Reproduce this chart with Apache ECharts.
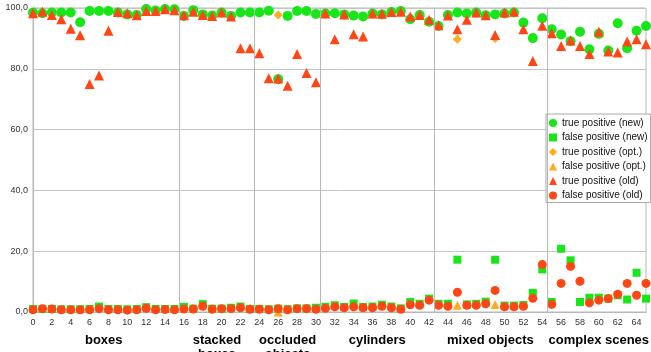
<!DOCTYPE html>
<html>
<head>
<meta charset="utf-8">
<script src="https://cdn.jsdelivr.net/npm/echarts@6/dist/echarts.min.js"></script>
<style>
  html, body { margin: 0; padding: 0; background: #fff; }
  #chart { width: 651px; height: 352px; }
</style>
</head>
<body>
<div id="chart"></div>
<script>
// scene groups: first / last scene index of each group
const groupNames = ['boxes', 'stacked\nboxes', 'occluded\nobjects', 'cylinders', 'mixed objects', 'complex scenes'];
const groupStart = [0, 16, 24, 31, 43, 55];
const groupEnd = [15, 23, 30, 42, 54, 65];

// true / false positives in %, one value per scene 0..65
const tpNew = [
  98.5, 98.3, 98.5, 98.5, 98.5, 95.3, 99.0, 99.0, 99.0, 98.5, 97.9, 97.7, 99.7, 99.2, 99.7, 99.6,
  97.4, 99.3, 97.9, 97.5, 98.5, 97.4, 98.5, 98.5, 98.5, 99.1, 76.6, 97.4, 99.0, 99.0, 98.0,
  98.2, 98.3, 97.9, 97.5, 97.2, 98.2, 97.9, 98.7, 99.0, 96.3, 97.7, 95.5,
  94.1, 97.7, 98.5, 98.2, 98.5, 97.6, 97.9, 98.2, 98.5, 95.2, 90.1, 96.6,
  93.0, 91.3, 89.1, 92.2, 86.4, 91.5, 86.0, 95.0, 86.8, 92.5, 94.1
];
const fpNew = [
  1.0, 1.0, 1.0, 0.9, 0.9, 0.9, 1.0, 1.8, 1.0, 1.0, 0.9, 1.0, 1.6, 1.0, 1.0, 1.0,
  1.7, 1.1, 2.6, 1.1, 1.1, 1.4, 1.8, 1.0, 1.0, 0.9, 1.1, 0.9, 1.2, 1.2, 1.4,
  1.7, 2.2, 1.7, 2.8, 1.7, 1.8, 2.4, 1.8, 1.2, 3.3, 2.7, 4.4,
  2.7, 2.7, 17.2, 2.5, 2.7, 3.4, 17.2, 2.1, 2.1, 2.3, 6.3, 14.0,
  3.3, 20.8, 17.0, 3.3, 4.7, 4.7, 4.4, 5.5, 4.1, 12.9, 4.4
];
const tpOld = [
  98.3, 98.8, 97.7, 96.3, 93.2, 91.0, 75.0, 77.8, 92.5, 98.7, 98.3, 97.6, 99.0, 99.0, 99.6, 99.3,
  97.6, 98.8, 97.7, 97.4, 98.5, 97.2, 86.8, 86.8, 85.1, 76.9, 76.8, 74.4, 84.9, 78.6, 75.6,
  98.2, 89.7, 97.9, 91.4, 90.6, 98.2, 98.1, 98.7, 98.8, 97.2, 97.7, 96.1,
  94.3, 97.5, 93.0, 96.1, 98.5, 97.6, 91.1, 98.5, 98.8, 93.0, 82.6, 94.2,
  91.7, 87.5, 89.3, 87.5, 84.9, 92.2, 85.7, 85.4, 89.0, 89.7, 88.1
];
const fpOld = [
  0.7, 1.1, 1.0, 0.7, 0.7, 0.7, 0.7, 1.1, 0.7, 0.7, 0.6, 0.7, 1.2, 0.7, 0.8, 0.7,
  1.0, 1.0, 1.9, 0.9, 1.1, 1.1, 1.4, 0.9, 0.9, 0.7, 1.1, 0.7, 1.1, 1.1, 0.9,
  1.2, 1.7, 1.4, 1.7, 1.4, 1.4, 1.9, 1.4, 0.9, 2.4, 2.2, 3.9,
  2.2, 1.9, 6.5, 2.2, 2.2, 2.7, 7.1, 1.7, 1.7, 1.9, 4.5, 15.6,
  2.5, 9.4, 15.0, 10.1, 3.0, 3.9, 4.4, 5.8, 9.4, 5.5, 9.4
];
// "opt." results exist only for a few scenes
const optScenes = [26, 45, 49];
const tpOpt = [97.7, 89.7, 90.0];
const fpOpt = [0.0, 2.2, 2.5];

const legendNames = [
  'true positive (new)', 'false positive (new)',
  'true positive (opt.)', 'false positive (opt.)',
  'true positive (old)', 'false positive (old)'
];

const green = '#19e619';
const orange = '#ffab1f';
const red = '#ff4614';
const font = 'Liberation Sans, Arial, Helvetica, sans-serif';

const toPoints = vals => vals.map((v, i) => [i, v]);
const toOptPoints = vals => vals.map((v, i) => [optScenes[i], v]);
const groupCenters = groupStart.map((s, i) => (s + groupEnd[i]) / 2);
const dividers = groupEnd.slice(0, -1).map(e => ({ xAxis: e + 0.5 }));

const chart = echarts.init(document.getElementById('chart'), null, { renderer: 'canvas' });

const scatter = (name, data, symbol, size, color, z) => ({
  name: name,
  type: 'scatter',
  data: data,
  symbol: symbol,
  symbolSize: size,
  itemStyle: { color: color, opacity: 1 },
  z: z,
  silent: true,
  animation: false
});

const option = {
  animation: false,
  textStyle: { fontFamily: font },
  grid: {
    left: 33, right: 5, top: 8, bottom: 40,
    outerBoundsMode: 'none',
    show: true, borderColor: '#b8b8b8', borderWidth: 1, backgroundColor: 'transparent'
  },
  legend: {
    data: legendNames,
    orient: 'vertical',
    left: 546, top: 114,
    padding: [3, 3, 1, 3],
    itemWidth: 8, itemHeight: 8, itemGap: 2.5,
    backgroundColor: '#fff',
    borderColor: '#aaa', borderWidth: 1,
    textStyle: { fontSize: 10, color: '#111', fontFamily: font, lineHeight: 12 },
    selectedMode: false
  },
  xAxis: [{
    type: 'value',
    min: 0, max: 65, interval: 2,
    axisLine: { show: true, lineStyle: { color: '#b8b8b8' } },
    axisTick: { show: false },
    splitLine: { show: false },
    axisLabel: { fontSize: 9, color: '#333', margin: 6, showMaxLabel: false }
  }, {
    type: 'value',
    position: 'bottom',
    min: 0, max: 65,
    axisLine: { show: false },
    axisTick: { show: false },
    splitLine: { show: false },
    axisLabel: {
      customValues: groupCenters,
      formatter: v => groupNames[groupCenters.indexOf(v)] || '',
      fontSize: 13, fontWeight: 'bold', color: '#000',
      margin: 21, lineHeight: 14, verticalAlign: 'top'
    }
  }],
  yAxis: {
    type: 'value',
    min: 0, max: 100, interval: 20,
    name: '%',
    nameLocation: 'middle',
    nameGap: 13,
    nameTextStyle: { fontSize: 9, color: '#333' },
    axisLine: { show: true, lineStyle: { color: '#b8b8b8' } },
    axisTick: { show: false },
    splitLine: { show: true, lineStyle: { color: '#c4c4c4' } },
    axisLabel: {
      fontSize: 9, color: '#333', margin: 5,
      formatter: v => v.toFixed(1).replace('.', ',')
    }
  },
  series: [
    {
      name: 'groups',
      type: 'line',
      data: [],
      z: 1,
      silent: true,
      markLine: {
        silent: true,
        symbol: ['none', 'none'],
        label: { show: false },
        lineStyle: { color: '#b8b8b8', type: 'solid', width: 1 },
        data: dividers
      }
    },
    scatter(legendNames[0], toPoints(tpNew), 'circle', 10, green, 2),
    scatter(legendNames[1], toPoints(fpNew), 'rect', 8, green, 2),
    scatter(legendNames[2], toOptPoints(tpOpt), 'diamond', 9, orange, 3),
    scatter(legendNames[3], toOptPoints(fpOpt), 'triangle', 9, orange, 3),
    scatter(legendNames[4], toPoints(tpOld), 'triangle', 10, red, 4),
    scatter(legendNames[5], toPoints(fpOld), 'circle', 9, red, 4)
  ]
};

chart.setOption(option);
</script>
</body>
</html>
